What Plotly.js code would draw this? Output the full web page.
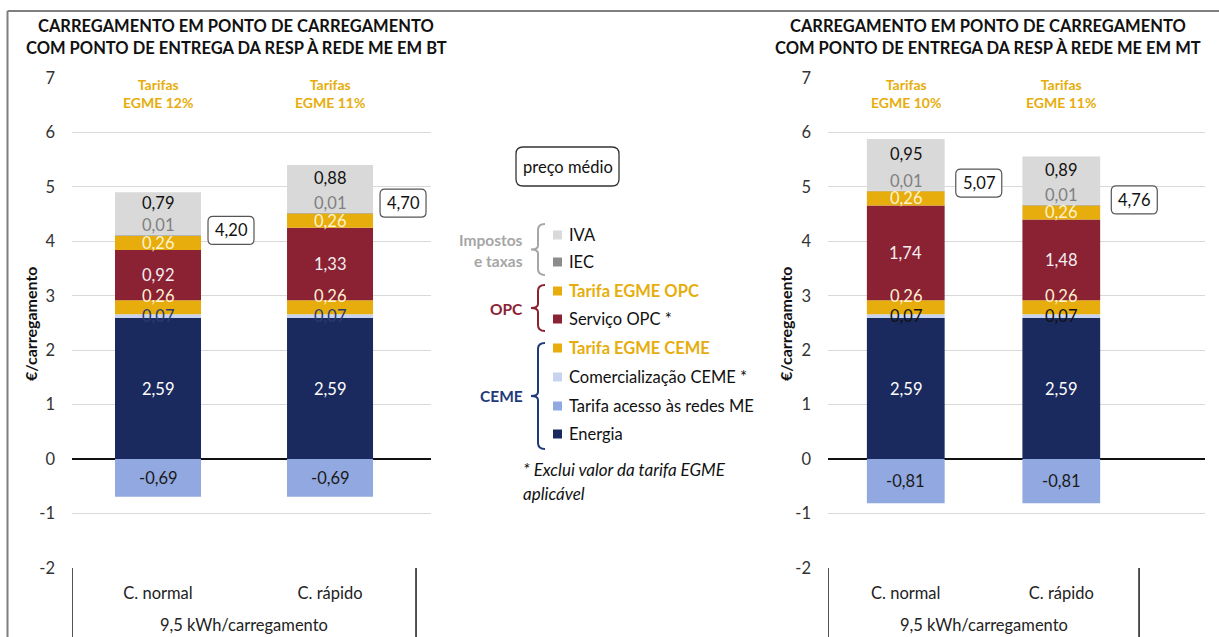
<!DOCTYPE html>
<html>
<head>
<meta charset="utf-8">
<script src="https://cdn.plot.ly/plotly-3.0.1.min.js"></script>
<style>html,body{margin:0;padding:0;background:#fff;}#chart{width:1219px;height:637px;}</style>
</head>
<body>
<div id="chart"></div>
<script>
// ---------- DATA ----------
const categories = ["C. normal", "C. rápido"];
const xGroupLabel = "9,5 kWh/carregamento";
const yTicks = [-2, -1, 0, 1, 2, 3, 4, 5, 6, 7];

// BT chart (left)
const btEnergia = [2.59, 2.59];
const btAcesso = [-0.69, -0.69];
const btComerc = [0.07, 0.07];
const btEgmeCeme = [0.26, 0.26];
const btServicoOpc = [0.92, 1.33];
const btEgmeOpc = [0.26, 0.26];
const btIec = [0.01, 0.01];
const btIva = [0.79, 0.88];
const btTotals = [4.20, 4.70];
const btEgmePct = ["12%", "11%"];

// MT chart (right)
const mtEnergia = [2.59, 2.59];
const mtAcesso = [-0.81, -0.81];
const mtComerc = [0.07, 0.07];
const mtEgmeCeme = [0.26, 0.26];
const mtServicoOpc = [1.74, 1.48];
const mtEgmeOpc = [0.26, 0.26];
const mtIec = [0.01, 0.01];
const mtIva = [0.95, 0.89];
const mtTotals = [5.07, 4.76];
const mtEgmePct = ["10%", "11%"];

const seriesNames = ["Energia", "Tarifa acesso às redes ME", "Comercialização CEME *", "Tarifa EGME CEME",
                     "Serviço OPC *", "Tarifa EGME OPC", "IEC", "IVA"];

// ---------- STYLE ----------
const W = 1219, H = 637;
const FONT = "Lato, 'Noto Sans', sans-serif";
const FS = 16.5;
const GOLD = "#e6ad0c";
const colors = {
  "Energia": "#1b2a5e", "Tarifa acesso às redes ME": "#91a8e0", "Comercialização CEME *": "#c8d3ef",
  "Tarifa EGME CEME": GOLD, "Serviço OPC *": "#8b2234", "Tarifa EGME OPC": GOLD,
  "IEC": "#8c8c8c", "IVA": "#d9d9d9"
};
const labelStyle = {
  "Energia": {c: "#ffffff", s: 0}, "Tarifa acesso às redes ME": {c: "#1a1a1a", s: 0},
  "Comercialização CEME *": {c: "#2b3a70", s: 0}, "Tarifa EGME CEME": {c: "#fff3cf", s: 11},
  "Serviço OPC *": {c: "#f4eef0", s: 0}, "Tarifa EGME OPC": {c: "#fff3cf", s: 0},
  "IEC": {c: "#808080", s: 10, top: true}, "IVA": {c: "#111111", s: 11}
};
const px = x => x / W, py = y => 1 - y / H;
const fmt = v => v.toFixed(2).replace('.', ',');

const charts = [
  {xa: "x", ya: "y", series: [btEnergia, btAcesso, btComerc, btEgmeCeme, btServicoOpc, btEgmeOpc, btIec, btIva],
   totals: btTotals, pct: btEgmePct, comercColor: "#2b3a70",
   title: ["CARREGAMENTO EM PONTO DE CARREGAMENTO", "COM PONTO DE ENTREGA DA RESP À REDE ME EM BT"], titleX: 236, yTitleX: 30},
  {xa: "x2", ya: "y2", series: [mtEnergia, mtAcesso, mtComerc, mtEgmeCeme, mtServicoOpc, mtEgmeOpc, mtIec, mtIva],
   totals: mtTotals, pct: mtEgmePct, comercColor: "#111111",
   title: ["CARREGAMENTO EM PONTO DE CARREGAMENTO", "COM PONTO DE ENTREGA DA RESP À REDE ME EM MT"], titleX: 988, yTitleX: 785}
];

const traces = [], annotations = [], shapes = [];

function rrPath(x0, y0, x1, y1, r, cx, cy) {
  return `M${cx(x0 + r)},${cy(y0)} L${cx(x1 - r)},${cy(y0)} Q${cx(x1)},${cy(y0)} ${cx(x1)},${cy(y0 + r)} ` +
    `L${cx(x1)},${cy(y1 - r)} Q${cx(x1)},${cy(y1)} ${cx(x1 - r)},${cy(y1)} L${cx(x0 + r)},${cy(y1)} ` +
    `Q${cx(x0)},${cy(y1)} ${cx(x0)},${cy(y1 - r)} L${cx(x0)},${cy(y0 + r)} Q${cx(x0)},${cy(y0)} ${cx(x0 + r)},${cy(y0)} Z`;
}
function paperText(x, y, text, font, extra) {
  annotations.push(Object.assign({xref: "paper", yref: "paper", x: px(x), y: py(y), text: text, showarrow: false,
    xanchor: "center", yanchor: "middle", font: font}, extra || {}));
}

charts.forEach(ch => {
  const posBase = categories.map(() => 0);
  const negBase = categories.map(() => 0);
  ch.series.forEach((vals, si) => {
    const name = seriesNames[si];
    traces.push({
      type: "bar", name: name, x: categories, y: vals, xaxis: ch.xa, yaxis: ch.ya,
      width: 0.5, marker: {color: colors[name], line: {width: 0}}, hoverinfo: "none", textposition: "none"
    });
    vals.forEach((v, ci) => {
      let lo, hi;
      if (v >= 0) { lo = posBase[ci]; hi = lo + v; posBase[ci] = hi; }
      else { hi = negBase[ci]; lo = hi + v; negBase[ci] = lo; }
      const st = labelStyle[name];
      let color = st.c;
      if (name === "Comercialização CEME *") color = ch.comercColor;
      annotations.push({
        xref: ch.xa, yref: ch.ya, x: categories[ci], y: st.top ? hi : (lo + hi) / 2,
        text: fmt(v), showarrow: false, yshift: st.s, xanchor: "center", yanchor: "middle",
        font: {family: FONT, size: FS, color: color}
      });
    });
  });
  // totals (preço médio)
  ch.totals.forEach((t, ci) => {
    shapes.push({
      type: "path", xref: ch.xa, yref: ch.ya, xsizemode: "pixel", ysizemode: "pixel",
      xanchor: categories[ci], yanchor: t,
      path: rrPath(50, -14, 96, 14, 5, v => v, v => v),
      line: {color: "#555555", width: 1.2}, fillcolor: "#ffffff", layer: "above"
    });
    annotations.push({
      xref: ch.xa, yref: ch.ya, x: categories[ci], y: t, xshift: 73, text: fmt(t), xanchor: "center", yanchor: "middle",
      showarrow: false, font: {family: FONT, size: FS, color: "#111"}
    });
  });
  // Tarifas EGME labels
  ch.pct.forEach((p, ci) => {
    annotations.push({
      xref: ch.xa, yref: ch.ya, x: categories[ci], y: yTicks[yTicks.length - 1], xanchor: "center", yanchor: "top", yshift: 6,
      text: "<b>Tarifas<br>EGME " + p + "</b>", showarrow: false, bgcolor: "#ffffff", borderpad: 3,
      font: {family: FONT, size: 14, color: GOLD}
    });
  });
  // Group label under categories
  annotations.push({
    xref: ch.xa, yref: "paper", x: 0.5, y: py(625), text: xGroupLabel, showarrow: false, xanchor: "center", yanchor: "middle",
    font: {family: FONT, size: FS, color: "#222"}
  });
  // Vertical lines of the category box
  [-0.5, 1.5].forEach(xv => shapes.push({
    type: "line", xref: ch.xa, yref: "paper", x0: xv, x1: xv, y0: 0, y1: py(568),
    line: {color: "#1a1a1a", width: 1.5}
  }));
  // Titles
  ch.title.forEach((t, li) => paperText(ch.titleX, li === 0 ? 26 : 48, "<b>" + t + "</b>",
    {family: FONT, size: 16.5, color: "#111"}));
  // y axis title
  paperText(ch.yTitleX, 324, "<b>€/carregamento</b>", {family: FONT, size: 16, color: "#111"}, {textangle: -90});
});

// ---------- Middle legend ----------
const legendRows = [
  {name: "IVA", y: 235, bold: false, col: "#111"},
  {name: "IEC", y: 262, bold: false, col: "#111"},
  {name: "Tarifa EGME OPC", y: 291, bold: true, col: GOLD},
  {name: "Serviço OPC *", y: 319, bold: false, col: "#111"},
  {name: "Tarifa EGME CEME", y: 348, bold: true, col: GOLD},
  {name: "Comercialização CEME *", y: 377, bold: false, col: "#111"},
  {name: "Tarifa acesso às redes ME", y: 406, bold: false, col: "#111"},
  {name: "Energia", y: 434, bold: false, col: "#111"}
];
legendRows.forEach(r => {
  shapes.push({type: "rect", xref: "paper", yref: "paper", x0: px(553), x1: px(562), y0: py(r.y + 4.5), y1: py(r.y - 4.5),
    fillcolor: colors[r.name], line: {width: 0}});
  paperText(567, r.y, r.bold ? "<b>" + r.name + "</b>" : r.name, {family: FONT, size: FS, color: r.col}, {xanchor: "left"});
});
const groups = [
  {lines: [["Impostos", 240], ["e taxas", 261]], top: 224, bot: 275, col: "#a6a6a6", right: 525},
  {lines: [["OPC", 309]], top: 285, bot: 331, col: "#8b2234", right: 525},
  {lines: [["CEME", 396]], top: 343, bot: 449, col: "#1f3a7a", right: 525}
];
groups.forEach(g => {
  g.lines.forEach(([t, y]) => paperText(g.right, y, "<b>" + t + "</b>", {family: FONT, size: 15.5, color: g.col}, {xanchor: "right"}));
  const xv = 538, xe = 545, xt = 531, r = 6, ym = (g.top + g.bot) / 2;
  const P = (x, y) => `${px(x)},${py(y)}`;
  const path = `M${P(xe, g.top)} Q${P(xv, g.top)} ${P(xv, g.top + r)} L${P(xv, ym - 4)} Q${P(xv, ym)} ${P(xt, ym)} ` +
    `Q${P(xv, ym)} ${P(xv, ym + 4)} L${P(xv, g.bot - r)} Q${P(xv, g.bot)} ${P(xe, g.bot)}`;
  shapes.push({type: "path", xref: "paper", yref: "paper", path: path, line: {color: g.col, width: 2}});
});
// Footnote
paperText(521, 469, "<i>* Exclui valor da tarifa EGME</i>", {family: FONT, size: 17, color: "#111"}, {xanchor: "left"});
paperText(521, 493, "<i>aplicável</i>", {family: FONT, size: 17, color: "#111"}, {xanchor: "left"});
// preço médio box
shapes.push({type: "path", xref: "paper", yref: "paper", path: rrPath(516, 147, 619, 186, 7, px, py),
  line: {color: "#333", width: 1.3}, fillcolor: "#fff"});
paperText(567.5, 166.5, "preço médio", {family: FONT, size: FS, color: "#111"});
// Outer frame
shapes.push({type: "line", xref: "paper", yref: "paper", x0: px(7.5), x1: px(7.5), y0: 0, y1: py(11), line: {color: "#7f7f7f", width: 2}});
shapes.push({type: "line", xref: "paper", yref: "paper", x0: px(7.5), x1: 1, y0: py(11), y1: py(11), line: {color: "#7f7f7f", width: 2}});

// ---------- Axes ----------
const yAxisBase = {
  range: [-2, 7], tickvals: yTicks, ticktext: yTicks.map(String), showgrid: true, gridcolor: "#d9d9d9", gridwidth: 1,
  zeroline: true, zerolinecolor: "#111", zerolinewidth: 1.3, showline: false, ticks: "", ticklabelstandoff: 16,
  tickfont: {family: FONT, size: FS, color: "#333"}, domain: [1 - 568 / H, 1 - 78 / H], fixedrange: true
};
const xAxisBase = {
  type: "category", showgrid: false, zeroline: false, showline: false, ticks: "", ticklabelstandoff: 13,
  tickfont: {family: FONT, size: FS, color: "#222"}, fixedrange: true
};
const layout = {
  width: W, height: H, margin: {l: 0, r: 0, t: 0, b: 0}, paper_bgcolor: "#fff", plot_bgcolor: "rgba(0,0,0,0)",
  barmode: "relative", showlegend: false, font: {family: FONT},
  xaxis: Object.assign({}, xAxisBase, {domain: [px(72), px(431)], range: [-0.5, 1.587], anchor: "y"}),
  yaxis: Object.assign({}, yAxisBase, {anchor: "x"}),
  xaxis2: Object.assign({}, xAxisBase, {domain: [px(828), px(1205)], range: [-0.5, 1.924], anchor: "y2"}),
  yaxis2: Object.assign({}, yAxisBase, {anchor: "x2"}),
  annotations: annotations, shapes: shapes
};
Plotly.newPlot("chart", traces, layout, {staticPlot: true, displayModeBar: false});
</script>
</body>
</html>
